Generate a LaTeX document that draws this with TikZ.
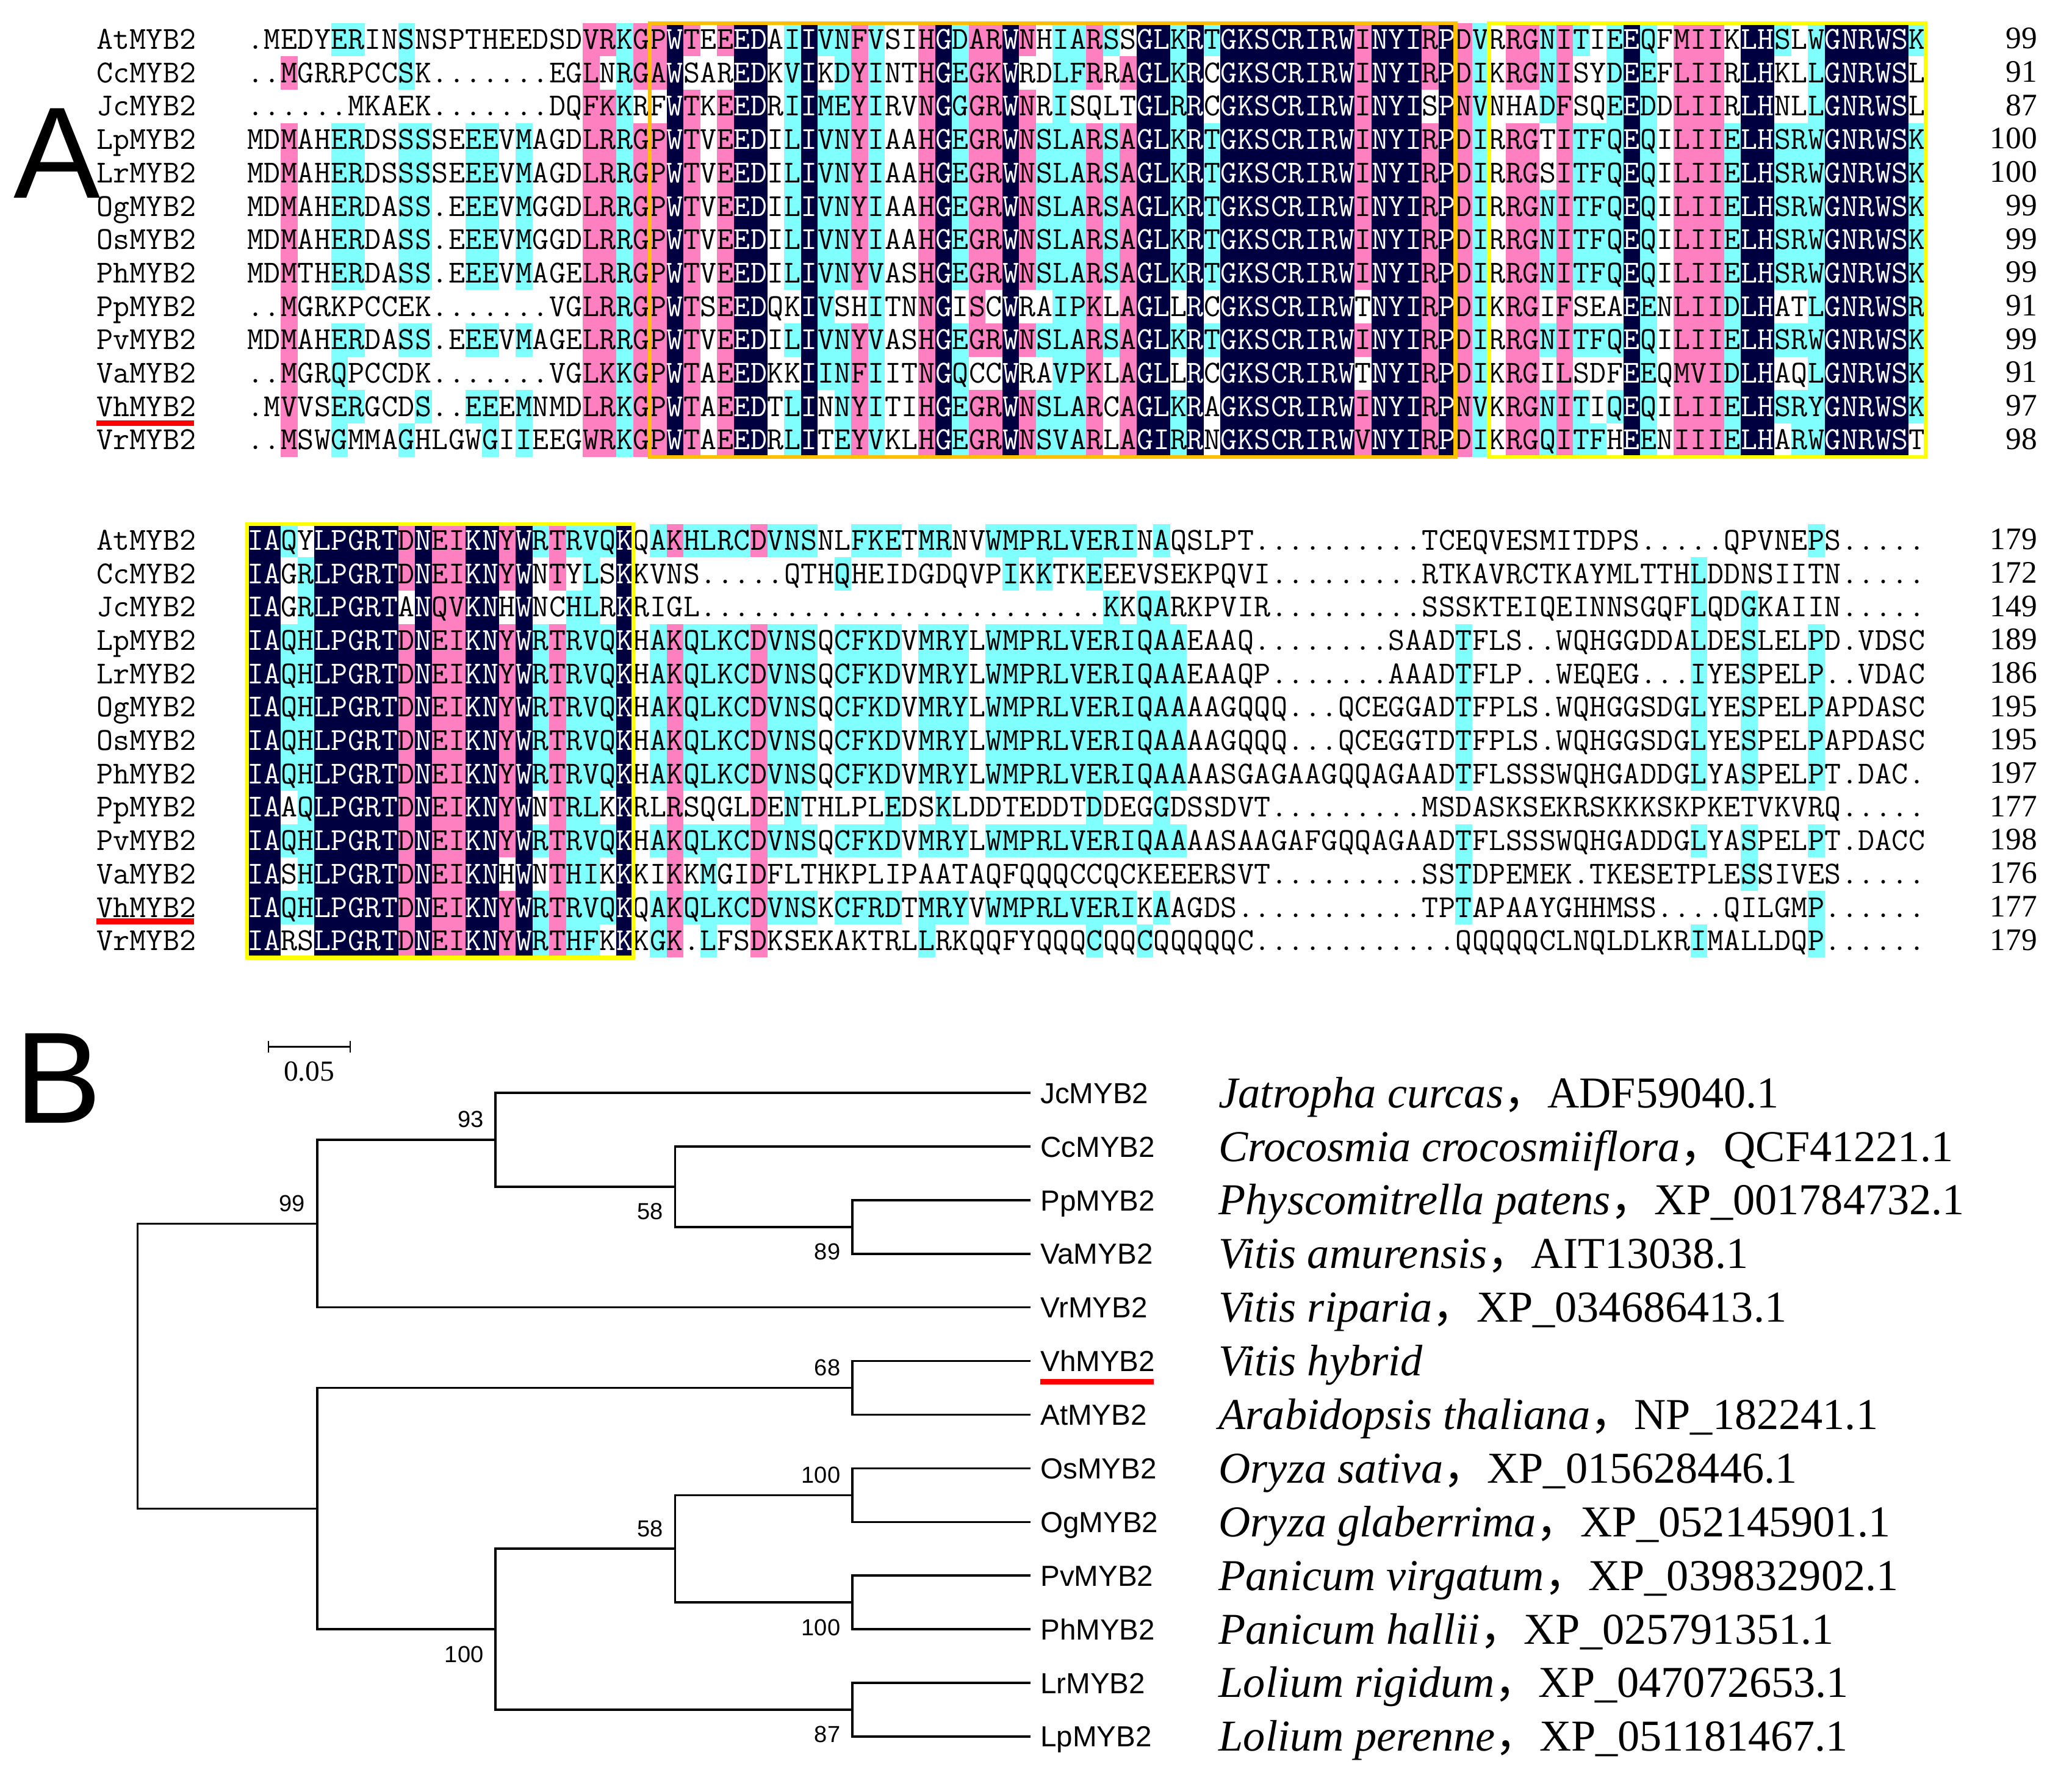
\documentclass[tikz,border=0pt]{standalone}
\usepackage{fontspec}
\setmainfont{Liberation Serif}
\newfontfamily\treefont{Liberation Sans}
\newfontfamily\cjkfont{Noto Sans CJK SC}
\usetikzlibrary{positioning}

% shading classes of the alignment (n = identical, p = high, c = medium, w = none)
\definecolor{alnn}{RGB}{0,0,64}
\definecolor{alnp}{RGB}{255,128,192}
\definecolor{alnc}{RGB}{128,255,255}
\definecolor{alnw}{RGB}{255,255,255}
\colorlet{txtn}{white}
\colorlet{txtp}{black}
\colorlet{txtc}{black}
\colorlet{txtw}{black}
\definecolor{motifbox}{RGB}{255,192,0}
\definecolor{repbox}{RGB}{255,255,0}

\newcommand\cjkcomma{{\cjkfont ，}}

% alignment rows: one shaded cell per residue
\newcount\alncol
\newcommand\alncell[2]{%
  \fill[aln#2] ({187+\the\alncol*12.7},\alntop) rectangle ++(12.7,25.25);
  \node[residue,text=txt#2] at ({193.35+\the\alncol*12.7},{\alntop+19.8}) {#1};}
\def\alnstep#1#2\relax#3#4\relax{%
  \alncell{#1}{#3}%
  \global\advance\alncol by 1
  \ifx\relax#2\relax\else\alnstep#2\relax#4\relax\fi}
\newcommand\alnrow[6]{%
  \node[seqname] (#1) at (73,{#3+19.8}) {#2};
  \global\alncol=0
  \def\alntop{#3}%
  \alnstep#4\relax#5\relax
  \node[seqcount] (#1n) at (1542,{#3+19.5}) {#6};}

\begin{document}
\begin{tikzpicture}[x=0.02cm, y=-0.02cm]
% Define styles
\tikzstyle{residue} = [font=\ttfamily\fontsize{13.8}{13.8}\selectfont, inner sep=0pt, anchor=base]
\tikzstyle{seqname} = [font=\ttfamily\fontsize{13.8}{13.8}\selectfont, inner sep=0pt, anchor=base west]
\tikzstyle{seqcount} = [font=\fontsize{13.5}{13.5}\selectfont, inner sep=0pt, anchor=base east]
\tikzstyle{motif} = [draw=motifbox, line width=1.6pt]
\tikzstyle{repeatbox} = [draw=repbox, line width=1.6pt]
\tikzstyle{vhbar} = [fill=red]
\tikzstyle{panel} = [font=\treefont\fontsize{56}{56}\selectfont, inner sep=0pt, anchor=base]
\tikzstyle{branch} = [draw, line width=0.9pt]
\tikzstyle{leaf} = [font=\treefont\fontsize{12.5}{12.5}\selectfont, anchor=west, inner xsep=4pt, inner ysep=0pt, text height=9pt, text depth=0pt]
\tikzstyle{species} = [font=\fontsize{19}{19}\selectfont, anchor=west, inner sep=0pt, text height=12.6pt, text depth=0pt]
\tikzstyle{boot} = [font=\treefont\fontsize{10}{10}\selectfont, inner sep=0pt]
\tikzstyle{barlab} = [font=\fontsize{12.5}{12.5}\selectfont, inner sep=0pt]

\useasboundingbox (0,0) rectangle (1568,1343);

% panel letters
\node[panel] (panelA) at (43,150) {A};
\node[panel] (panelB) at (44,850) {B};

% alignment, residues 1-100
\alnrow{upAt}{AtMYB2}{17.4}{.MEDYERINS NSPTHEEDSD VRKGPWTEEE DAIIVNFVSI HGDARWNHIA RSSGLKRTGK SCRIRWINYI RPDVRRGNIT IEEQFMIIKL HSLWGNRWSK}{wwwwwccwwc wwwwwwwwww ppcppnpwpn nwcnccpcww pncppnpwcc pcwnncncnn nnnnnnpnnn pnpcwppcpc wcncwpppwn ncwcnnnnnc}{99}
\alnrow{upCc}{CcMYB2}{42.65}{..MGRRPCCS K.......EG LNRGAWSARE DKVIKDYINT HGEGKWRDLF RRAGLKRCGK SCRIRWINYI RPDIKRGNIS YDEEFLIIRL HKLLGNRWSL}{wwpwwwwwwc wwwwwwwwww pwcppnwwwn nwcnwcpcww pncppnwwcc pwpnncnwnn nnnnnnpnnn pnpcwppcpw wcncwpppwn nwwcnnnnnw}{91}
\alnrow{upJc}{JcMYB2}{67.9}{......MKAE K.......DQ FKKRFWTKEE DRIIMEYIRV NGGGRWNRIS QLTGLRRCGK SCRIRWINYI SPNVNHADFS QEEDDLIIRL HNLLGNRWSL}{wwwwwwwwww wwwwwwwwww ppcwwnpwpn nwcnccpcww pncppnpwcw wwwnncnwnn nnnnnnpnnn wnpcwwwcpw wcncwpppwn nwwcnnnnnw}{87}
\alnrow{upLp}{LpMYB2}{93.15}{MDMAHERDSS SSEEEVMAGD LRRGPWTVEE DILIVNYIAA HGEGRWNSLA RSAGLKRTGK SCRIRWINYI RPDIRRGTIT FQEQILIIEL HSRWGNRWSK}{wwpwwccwwc cwwccwcwww ppcppnpwpn nwcnccpcww pncppnpccc pcpnncncnn nnnnnnpnnn pnpcwppwpc ccncwpppcn ncccnnnnnc}{100}
\alnrow{upLr}{LrMYB2}{118.4}{MDMAHERDSS SSEEEVMAGD LRRGPWTVEE DILIVNYIAA HGEGRWNSLA RSAGLKRTGK SCRIRWINYI RPDIRRGSIT FQEQILIIEL HSRWGNRWSK}{wwpwwccwwc cwwccwcwww ppcppnpwpn nwcnccpcww pncppnpccc pcpnncncnn nnnnnnpnnn pnpcwppwpc ccncwpppcn ncccnnnnnc}{100}
\alnrow{upOg}{OgMYB2}{143.65}{MDMAHERDAS S.EEEVMGGD LRRGPWTVEE DILIVNYIAA HGEGRWNSLA RSAGLKRTGK SCRIRWINYI RPDIRRGNIT FQEQILIIEL HSRWGNRWSK}{wwpwwccwwc cwwccwcwww ppcppnpwpn nwcnccpcww pncppnpccc pcpnncncnn nnnnnnpnnn pnpcwppcpc ccncwpppcn ncccnnnnnc}{99}
\alnrow{upOs}{OsMYB2}{168.9}{MDMAHERDAS S.EEEVMGGD LRRGPWTVEE DILIVNYIAA HGEGRWNSLA RSAGLKRTGK SCRIRWINYI RPDIRRGNIT FQEQILIIEL HSRWGNRWSK}{wwpwwccwwc cwwccwcwww ppcppnpwpn nwcnccpcww pncppnpccc pcpnncncnn nnnnnnpnnn pnpcwppcpc ccncwpppcn ncccnnnnnc}{99}
\alnrow{upPh}{PhMYB2}{194.15}{MDMTHERDAS S.EEEVMAGE LRRGPWTVEE DILIVNYVAS HGEGRWNSLA RSAGLKRTGK SCRIRWINYI RPDIRRGNIT FQEQILIIEL HSRWGNRWSK}{wwpwwccwwc cwwccwcwww ppcppnpwpn nwcnccpcww pncppnpccc pcpnncncnn nnnnnnpnnn pnpcwppcpc ccncwpppcn ncccnnnnnc}{99}
\alnrow{upPp}{PpMYB2}{219.4}{..MGRKPCCE K.......VG LRRGPWTSEE DQKIVSHITN NGISCWRAIP KLAGLLRCGK SCRIRWTNYI RPDIKRGIFS EAEENLIIDL HATLGNRWSR}{wwpwwwwwww wwwwwwwwww ppcppnpwpn nwwncwwcww pnwpwnwwcc pwpnnwnwnn nnnnnnwnnn pnpcwppwpw wwncwpppcn nwwcnnnnnc}{91}
\alnrow{upPv}{PvMYB2}{244.65}{MDMAHERDAS S.EEEVMAGE LRRGPWTVEE DILIVNYVAS HGEGRWNSLA RSAGLKRTGK SCRIRWINYI RPDIRRGNIT FQEQILIIEL HSRWGNRWSK}{wwpwwccwwc cwwccwcwww ppcppnpwpn nwcnccpcww pncppnpccc pcpnncncnn nnnnnnpnnn pnpcwppcpc ccncwpppcn ncccnnnnnc}{99}
\alnrow{upVa}{VaMYB2}{269.9}{..MGRQPCCD K.......VG LKKGPWTAEE DKKIINFIIT NGQCCWRAVP KLAGLLRCGK SCRIRWTNYI RPDIKRGILS DFEEQMVIDL HAQLGNRWSK}{wwpwwcwwww wwwwwwwwww ppcppnpwpn nwwnccpcww pncwwnwwcc pwpnnwnwnn nnnnnnwnnn pnpcwppwpw wwncwpppcn nwwcnnnnnc}{91}
\alnrow{upVh}{VhMYB2}{295.15}{.MVVSERGCD S..EEEMNMD LRKGPWTAEE DTLINNYITI HGEGRWNSLA RCAGLKRAGK SCRIRWINYI RPNVKRGNIT IQEQILIIEL HSRYGNRWSK}{wwpwwccwww cwwccwcwww ppcppnpwpn nwcnwcpcww pncppnpccc pwpnncnwnn nnnnnnpnnn pnpcwppcpc wcncwpppcn ncccnnnnnc}{97}
\alnrow{upVr}{VrMYB2}{320.4}{..MSWGMMAG HLGWGIIEEG WRKGPWTAEE DRLITEYVKL HGEGRWNSVA RLAGIRRNGK SCRIRWVNYI RPDIKRGQIT FHEENIIIEL HARWGNRWST}{wwpwwcwwwc wwwwcwcwww ppcppnpwpn nwcnwcpcww pncppnpccc pwpnncnwnn nnnnnnpnnn pnpcwppcpc cwncwpppcn nwccnnnnnw}{98}
\draw[motif] (491.8,17.4) rectangle (1101.4,345.65);
\draw[repeatbox] (1126.8,17.4) rectangle (1457,345.65);
\fill[vhbar] (73,318) rectangle (147,322.5);

% alignment, residues 101 onwards
\alnrow{loAt}{AtMYB2}{396.4}{IAQYLPGRTD NEIKNYWRTR VQKQAKHLRC DVNSNLFKET MRNVWMPRLV ERINAQSLPT .......... TCEQVESMIT DPS.....QP VNEPS.....}{nncwnnnnnp nppnnpncpc ccnwcpcccc pcccwwcccw ccwwcccccc cccwcwwwww wwwwwwwwww wwwwwwwwww wwwwwwwwww wwwcwwwwww}{179}
\alnrow{loCc}{CcMYB2}{421.65}{IAGRLPGRTD NEIKNYWNTY LSKKVNS... ..QTHQHEID GDQVPIKKTK EEEVSEKPQV I......... RTKAVRCTKA YMLTTHLDDN SIITN.....}{nnwcnnnnnp nppnnpnwpw cwnwwwwwww wwwwwcwwww wwwwwcwcww cwwwwwwwww wwwwwwwwww wwwwwwwwww wwwwwwcwww wwwwwwwwww}{172}
\alnrow{loJc}{JcMYB2}{446.9}{IAGRLPGRTA NQVKNHWNCH LRKRIGL... .......... .......... .KKQARKPVI R......... SSSKTEIQEI NNSGQFLQDG KAIIN.....}{nnwcnnnnnw nppnnwnwwc cwnwwwwwww wwwwwwwwww wwwwwwwwww wcwccwwwww wwwwwwwwww wwwwwwwwww wwwwwwcwwc wwwwwwwwww}{149}
\alnrow{loLp}{LpMYB2}{472.15}{IAQHLPGRTD NEIKNYWRTR VQKHAKQLKC DVNSQCFKDV MRYLWMPRLV ERIQAAEAAQ ........SA ADTFLS..WQ HGGDDALDES LELPD.VDSC}{nnccnnnnnp nppnnpncpc ccnwcpcccc pcccwccccw cccwcccccc ccccccwwww wwwwwwwwww wwcwwwwwww wwwwwwcwwc wwwcwwwwww}{189}
\alnrow{loLr}{LrMYB2}{497.4}{IAQHLPGRTD NEIKNYWRTR VQKHAKQLKC DVNSQCFKDV MRYLWMPRLV ERIQAAEAAQ P.......AA ADTFLP..WE QEG...IYES PELP..VDAC}{nnccnnnnnp nppnnpncpc ccnwcpcccc pcccwccccw cccwcccccc ccccccwwww wwwwwwwwww wwcwwwwwww wwwwwwcwwc wwwcwwwwww}{186}
\alnrow{loOg}{OgMYB2}{522.65}{IAQHLPGRTD NEIKNYWRTR VQKHAKQLKC DVNSQCFKDV MRYLWMPRLV ERIQAAAAGQ QQ...QCEGG ADTFPLS.WQ HGGSDGLYES PELPAPDASC}{nnccnnnnnp nppnnpncpc ccnwcpcccc pcccwccccw cccwcccccc ccccccwwww wwwwwwwwww wwcwwwwwww wwwwwwcwwc wwwcwwwwww}{195}
\alnrow{loOs}{OsMYB2}{547.9}{IAQHLPGRTD NEIKNYWRTR VQKHAKQLKC DVNSQCFKDV MRYLWMPRLV ERIQAAAAGQ QQ...QCEGG TDTFPLS.WQ HGGSDGLYES PELPAPDASC}{nnccnnnnnp nppnnpncpc ccnwcpcccc pcccwccccw cccwcccccc ccccccwwww wwwwwwwwww wwcwwwwwww wwwwwwcwwc wwwcwwwwww}{195}
\alnrow{loPh}{PhMYB2}{573.15}{IAQHLPGRTD NEIKNYWRTR VQKHAKQLKC DVNSQCFKDV MRYLWMPRLV ERIQAAAASG AGAAGQQAGA ADTFLSSSWQ HGADDGLYAS PELPT.DAC.}{nnccnnnnnp nppnnpncpc ccnwcpcccc pcccwccccw cccwcccccc ccccccwwww wwwwwwwwww wwcwwwwwww wwwwwwcwwc wwwcwwwwww}{197}
\alnrow{loPp}{PpMYB2}{598.4}{IAAQLPGRTD NEIKNYWNTR LKKRLRSQGL DENTHLPLED SKLDDTEDDT DDEGGDSSDV T......... MSDASKSEKR SKKKSKPKET VKVRQ.....}{nnwcnnnnnp nppnnpnwpc cwnwwpwwww pwcwwwwwcw wcwwwwwwww cwwwcwwwww wwwwwwwwww wwwwwwwwww wwwwwwwwww wwwwwwwwww}{177}
\alnrow{loPv}{PvMYB2}{623.65}{IAQHLPGRTD NEIKNYWRTR VQKHAKQLKC DVNSQCFKDV MRYLWMPRLV ERIQAAAASA AGAFGQQAGA ADTFLSSSWQ HGADDGLYAS PELPT.DACC}{nnccnnnnnp nppnnpncpc ccnwcpcccc pcccwccccw cccwcccccc ccccccwwww wwwwwwwwww wwcwwwwwww wwwwwwcwwc wwwcwwwwww}{198}
\alnrow{loVa}{VaMYB2}{648.9}{IASHLPGRTD NEIKNHWNTH IKKKIKKMGI DFLTHKPLIP AATAQFQQQC CQCKEEERSV T......... SSTDPEMEK. TKESETPLES SIVES.....}{nnwcnnnnnp nppnnwnwpc cwnwwpwcww pwwwwwwwww wwwwwwwwww wwwwwwwwww wwwwwwwwww wwcwwwwwww wwwwwwwwwc wwwwwwwwww}{176}
\alnrow{loVh}{VhMYB2}{674.15}{IAQHLPGRTD NEIKNYWRTR VQKQAKQLKC DVNSKCFRDT MRYVWMPRLV ERIKAAGDS. .......... TPTAPAAYGH HMSS....QI LGMP......}{nnccnnnnnp nppnnpncpc ccnwcpcccc pcccwccccw cccwcccccc cccwcwwwww wwwwwwwwww wwcwwwwwww wwwwwwwwww wwwcwwwwww}{177}
\alnrow{loVr}{VrMYB2}{699.4}{IARSLPGRTD NEIKNYWRTH FKKKGK.LFS DKSEKAKTRL LRKQQFYQQQ CQQCQQQQQC .......... ..QQQQQCLN QLDLKRIMAL LDQP......}{nnwwnnnnnp nppnnpncpc cwnwcpwcww pwwwwwwwww cwwwwwwwww cwwcwwwwww wwwwwwwwww wwwwwwwwww wwwwwwcwww wwwcwwwwww}{179}
\draw[repeatbox] (187,396.4) rectangle (479.1,724.65);
\fill[vhbar] (73,695) rectangle (147,699.5);

% scale bar
\coordinate (barL) at (203,792);
\coordinate (barR) at (265,792);
\draw[line width=0.6pt] (barL) -- (barR);
\draw[line width=0.6pt] ([yshift=2.5pt]barL) -- ([yshift=-2.5pt]barL);
\draw[line width=0.6pt] ([yshift=2.5pt]barR) -- ([yshift=-2.5pt]barR);
\node[barlab] (barlab) at (234,811) {0.05};

% leaves and species
\foreach \leafid/\leaftext [count=\k from 0] in {
  Jc/{\textit{Jatropha curcas}\cjkcomma ADF59040.1},
  Cc/{\textit{Crocosmia crocosmiiflora}\cjkcomma QCF41221.1},
  Pp/{\textit{Physcomitrella patens}\cjkcomma XP\_001784732.1},
  Va/{\textit{Vitis amurensis}\cjkcomma AIT13038.1},
  Vr/{\textit{Vitis riparia}\cjkcomma XP\_034686413.1},
  Vh/{\textit{Vitis hybrid}},
  At/{\textit{Arabidopsis thaliana}\cjkcomma NP\_182241.1},
  Os/{\textit{Oryza sativa}\cjkcomma XP\_015628446.1},
  Og/{\textit{Oryza glaberrima}\cjkcomma XP\_052145901.1},
  Pv/{\textit{Panicum virgatum}\cjkcomma XP\_039832902.1},
  Ph/{\textit{Panicum hallii}\cjkcomma XP\_025791351.1},
  Lr/{\textit{Lolium rigidum}\cjkcomma XP\_047072653.1},
  Lp/{\textit{Lolium perenne}\cjkcomma XP\_051181467.1}}
{
  \node[leaf] (leaf\leafid) at (780,{827+\k*40.58}) {\leafid MYB2};
  \node[species] (spec\leafid) at (922,{827+\k*40.58}) {\leaftext};
}
\fill[vhbar] (787,1043.5) rectangle (873,1047.5);

% inner nodes of the tree
\coordinate (root) at (104,1033.7);
\coordinate (n99) at (240,925.9);
\coordinate (n93) at (375,862.5);
\coordinate (n58a) at (511,898);
\coordinate (n89) at (645,928.5);
\coordinate (nlow) at (240,1141.5);
\coordinate (n68) at (645,1050.2);
\coordinate (n100c) at (375,1232.8);
\coordinate (n58b) at (511,1171.9);
\coordinate (n100a) at (645,1131.4);
\coordinate (n100b) at (645,1212.5);
\coordinate (n87) at (645,1293.7);

% branches
\foreach \from/\to in {root/n99, root/nlow, n99/n93, n99/leafVr.west, n93/leafJc.west, n93/n58a,
    n58a/leafCc.west, n58a/n89, n89/leafPp.west, n89/leafVa.west, nlow/n68, nlow/n100c,
    n68/leafVh.west, n68/leafAt.west, n100c/n58b, n100c/n87, n58b/n100a, n58b/n100b,
    n100a/leafOs.west, n100a/leafOg.west, n100b/leafPv.west, n100b/leafPh.west,
    n87/leafLr.west, n87/leafLp.west}
  \draw[branch] (\from) |- (\to);

% bootstrap values
\node[boot, above left=5pt and 5pt of n93] (b93) {93};
\node[boot, above left=5pt and 5pt of n99] (b99) {99};
\node[boot, below left=7pt and 5pt of n58a] (b58a) {58};
\node[boot, below left=7pt and 5pt of n89] (b89) {89};
\node[boot, above left=5pt and 5pt of n68] (b68) {68};
\node[boot, above left=5pt and 5pt of n100a] (b100a) {100};
\node[boot, above left=5pt and 5pt of n58b] (b58b) {58};
\node[boot, below left=7pt and 5pt of n100b] (b100b) {100};
\node[boot, below left=7pt and 5pt of n100c] (b100c) {100};
\node[boot, below left=7pt and 5pt of n87] (b87) {87};
\end{tikzpicture}
\end{document}
